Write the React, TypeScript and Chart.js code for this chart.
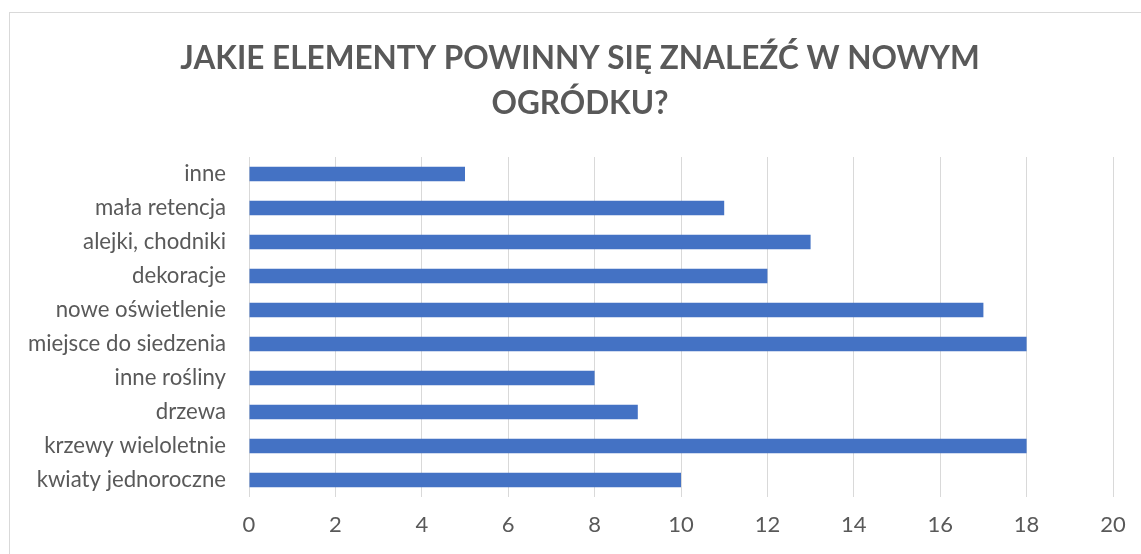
import React, { useEffect, useRef } from "react";
import { Chart, registerables } from "chart.js";

Chart.register(...registerables);

const categories = [
  "inne",
  "mała retencja",
  "alejki, chodniki",
  "dekoracje",
  "nowe oświetlenie",
  "miejsce do siedzenia",
  "inne rośliny",
  "drzewa",
  "krzewy wieloletnie",
  "kwiaty jednoroczne",
];
const values = [5, 11, 13, 12, 17, 18, 8, 9, 18, 10];
const titleLines = ["JAKIE ELEMENTY POWINNY SIĘ ZNALEŹĆ W NOWYM", "OGRÓDKU?"];
const xMin = 0;
const xMax = 20;
const xStep = 2;

const FONT = "Lato";
const TEXT = "#595959";
const GRID = "#d9d9d9";
const BAR = "#4472C4";

const titlePlugin = {
  id: "centeredTitle",
  afterDraw(chart: any) {
    const ctx = chart.ctx;
    ctx.save();
    ctx.fillStyle = TEXT;
    ctx.font = `bold 31.5px ${FONT}`;
    ctx.textAlign = "center";
    ctx.textBaseline = "middle";
    const cx = 580;
    const y0 = 58.75;
    const lh = 45.5;
    titleLines.forEach((line, i) => ctx.fillText(line, cx, y0 + i * lh));
    ctx.restore();
  },
};

export default function App() {
  const ref = useRef<HTMLCanvasElement | null>(null);
  useEffect(() => {
    if (!ref.current) return;
    const chart = new Chart(ref.current, {
      type: "bar",
      data: {
        labels: categories,
        datasets: [
          {
            data: values,
            backgroundColor: BAR,
            borderWidth: 0,
            barPercentage: 0.42,
            categoryPercentage: 1,
          },
        ],
      },
      plugins: [titlePlugin],
      options: {
        indexAxis: "y",
        responsive: false,
        animation: false,
        devicePixelRatio: 1,
        layout: { padding: { left: 0, right: 28, top: 157, bottom: 0 } },
        plugins: {
          legend: { display: false },
          tooltip: { enabled: false },
          title: { display: false },
        },
        scales: {
          x: {
            min: xMin,
            max: xMax,
            ticks: { stepSize: xStep, color: TEXT, font: { family: FONT, size: 22 }, padding: 15 },
            grid: { color: GRID, lineWidth: 1, drawTicks: false },
            border: { display: false },
            afterFit: (s: any) => {
              s.height = 57;
            },
          },
          y: {
            ticks: { color: TEXT, font: { family: FONT, size: 22.2 }, padding: 23 },
            grid: { display: false, drawTicks: false },
            border: { display: false },
            afterFit: (s: any) => {
              s.width = 249;
            },
          },
        },
      },
    });
    return () => chart.destroy();
  }, []);
  return (
    <div style={{ position: "absolute", left: 0, top: 0, width: 1141, height: 554, background: "#fff", overflow: "hidden" }}>
      <div
        style={{
          position: "absolute",
          left: 9,
          top: 12,
          width: 1160,
          height: 580,
          border: "1px solid #d9d9d9",
          boxSizing: "border-box",
        }}
      />
      <canvas ref={ref} width={1141} height={554} style={{ position: "absolute", left: 0, top: 0 }} />
    </div>
  );
}
